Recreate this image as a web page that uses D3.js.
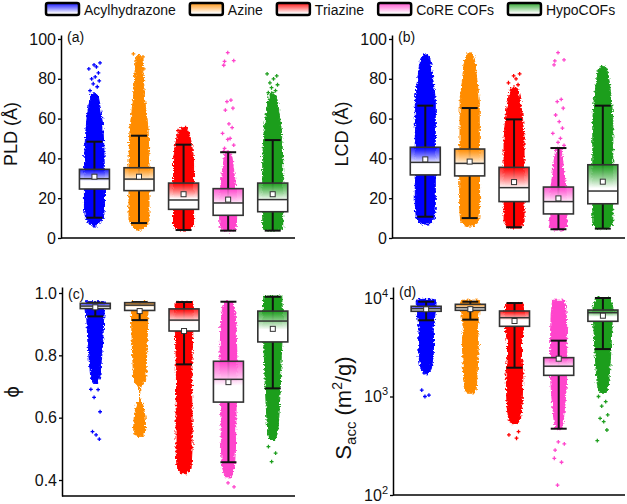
<!DOCTYPE html>
<html><head><meta charset="utf-8">
<script src="https://cdn.jsdelivr.net/npm/d3@7"></script>
<style>body{margin:0;background:#fff} svg{display:block;font-family:"Liberation Sans",Arial,sans-serif}</style>
</head><body><svg id="c" width="627" height="504"></svg>
<script>
// ---------------- DATA ----------------
const categories = ["Acylhydrazone", "Azine", "Triazine", "CoRE COFs", "HypoCOFs"];

// box stats: [whiskerLow, Q1, median, Q3, whiskerHigh, mean]
const pldStats = [
  [10.2, 24.6, 29.8, 34.5, 48.4, 30.8],
  [7.5, 23.8, 29.6, 35.3, 51.4, 30.8],
  [4.0, 14.4, 19.1, 27.6, 46.9, 22.0],
  [3.7, 11.4, 17.6, 24.8, 43.1, 19.3],
  [3.7, 13.2, 19.3, 27.6, 49.2, 22.0]
];
const lcdStats = [
  [10.7, 31.7, 38.0, 45.6, 66.5, 39.5],
  [10.0, 31.2, 37.5, 44.7, 65.3, 38.4],
  [5.4, 18.3, 25.3, 35.5, 59.6, 28.1],
  [4.4, 12.1, 18.3, 25.6, 45.2, 19.9],
  [4.7, 17.2, 23.6, 36.8, 66.5, 28.3]
];
const phiStats = [
  [0.925, 0.950, 0.958, 0.967, 0.969, 0.954],
  [0.913, 0.944, 0.961, 0.969, 0.971, 0.942],
  [0.771, 0.878, 0.913, 0.949, 0.971, 0.878],
  [0.457, 0.650, 0.723, 0.781, 0.972, 0.714],
  [0.694, 0.843, 0.910, 0.942, 0.988, 0.885]
];
const saccStats = [
  [5940, 7330, 7780, 8240, 9170, 7680],
  [6030, 7500, 7980, 8630, 9170, 7700],
  [1960, 5160, 6310, 7380, 8890, 5840],
  [471, 1640, 2030, 2480, 3690, 2420],
  [3030, 5800, 7100, 7550, 10000, 6610]
];

// dense point clouds: [value, relative density (0..1)]
const pldClouds = [
  [[6,0.2],[8,0.6],[10,0.9],[15,1],[30,1],[45,0.95],[55,0.85],[62,0.7],[68,0.5],[72,0.35],[73,0]],
  [[4,0.3],[6,0.7],[9,1],[40,1],[55,0.9],[62,0.75],[70,0.55],[80,0.45],[86,0.35],[90,0.3],[92,0.1]],
  [[4,0.5],[6,1],[40,1],[47,0.8],[52,0.6],[55,0.3],[55.5,0]],
  [[3.5,0.4],[5,0.8],[10,0.85],[20,0.85],[30,0.65],[36,0.5],[42,0.35],[44,0]],
  [[3.5,0.5],[5,1],[40,1],[55,0.85],[62,0.65],[68,0.5],[72,0.3],[73,0]]
];
const lcdClouds = [
  [[7,0.4],[10,0.9],[15,1],[70,1],[80,0.75],[86,0.6],[90,0.45],[92.5,0.15]],
  [[6,0.4],[9,0.9],[15,1],[70,0.95],[80,0.7],[88,0.55],[93,0.25]],
  [[5,0.6],[8,1],[50,1],[60,0.85],[66,0.7],[72,0.5],[75,0.35],[76,0]],
  [[4,0.5],[6,0.85],[15,0.85],[25,0.75],[33,0.55],[40,0.4],[45,0.25],[46,0]],
  [[4.7,0.5],[7,1],[60,1],[70,0.85],[78,0.65],[83,0.5],[86,0.25]]
];
const phiClouds = [
  [[0.71,0.2],[0.73,0.45],[0.78,0.6],[0.85,0.75],[0.92,0.85],[0.96,0.95],[0.972,0.9]],
  [[0.54,0.3],[0.56,0.6],[0.6,0.55],[0.63,0.4],[0.648,0.25],[0.65,0],[0.70,0],[0.705,0.3],[0.72,0.6],[0.8,0.7],[0.9,0.8],[0.97,0.85]],
  [[0.42,0.3],[0.44,0.7],[0.5,0.8],[0.6,0.8],[0.7,0.75],[0.8,0.8],[0.9,0.9],[0.97,0.9]],
  [[0.41,0.3],[0.44,0.6],[0.5,0.7],[0.6,0.75],[0.7,0.8],[0.8,0.85],[0.9,0.75],[0.95,0.6],[0.972,0.4]],
  [[0.53,0.3],[0.56,0.5],[0.6,0.6],[0.7,0.75],[0.8,0.85],[0.9,1],[0.99,0.9]]
];
const saccClouds = [
  [[1700,0.2],[1900,0.5],[2500,0.7],[3500,0.75],[5000,0.7],[7000,0.9],[9000,1],[9700,0.8]],
  [[1080,0.3],[1200,0.6],[1500,0.65],[2500,0.75],[3500,0.8],[5000,0.7],[7000,0.85],[9000,1],[9500,0.8]],
  [[530,0.3],[600,0.6],[800,0.75],[1200,0.8],[1800,0.85],[2500,0.7],[3500,0.7],[5000,0.9],[7000,1],[8800,0.8]],
  [[460,0.2],[550,0.45],[800,0.6],[1200,0.75],[2000,0.85],[3000,0.8],[5000,0.8],[7000,0.75],[9500,0.6]],
  [[1080,0.3],[1300,0.55],[2000,0.7],[3000,0.8],[5000,0.9],[8000,1],[10000,0.7]]
];

// sparse individual points outside the dense clouds
const pldSparse = [
  [74,76,77.5,79,80,81,83,85,86,87,88],
  [85,87,89,91,92.5],
  [53,54,55.5],
  [93.1,89.1,88.7,86.8,69.3,68.5,65.2,64.3,57.3,55.5,52.6,50,49.5,46.7,45,43.5],
  [73,74,75.5,77,78,80,81.5,82.5]
];
const lcdSparse = [
  [],
  [],
  [77,78,80,81.5,82.5],
  [93.1,89.5,89,87,69.7,68.5,65.2,61.8,58.5,55.2,52.6,50.1,48,46.5],
  [84,85,86]
];
const phiSparse = [
  [0.691,0.69,0.665,0.619,0.555,0.545,0.531],
  [],
  [],
  [0.391,0.378],
  [0.507,0.486,0.459]
];
const saccSparse = [
  [1160,1035,1000],
  [],
  [440,407,377],
  [347,330,286,236,215,126],
  [1000,885,800,650,600,555,457,356]
];

const linTicks = [0, 20, 40, 60, 80, 100];
const phiTicks = [0.4, 0.6, 0.8, 1.0];
const logTicks = [100, 1000, 10000];

// ---------------- STYLE ----------------
const colors = ["#0000ff", "#ff8c00", "#ff0000", "#ff44cc", "#1e9e1e"];
const svg = d3.select("#c");
const defs = svg.append("defs");
colors.forEach((c, i) => {
  const g = defs.append("linearGradient").attr("id", "bx" + i).attr("x1", 0).attr("y1", 0).attr("x2", 0).attr("y2", 1);
  g.append("stop").attr("offset", 0).attr("stop-color", c).attr("stop-opacity", 0.85);
  g.append("stop").attr("offset", 0.6).attr("stop-color", "#fff");
  const l = defs.append("linearGradient").attr("id", "lg" + i).attr("x1", 0).attr("y1", 0).attr("x2", 0).attr("y2", 1);
  l.append("stop").attr("offset", 0).attr("stop-color", c).attr("stop-opacity", 0.9);
  l.append("stop").attr("offset", 0.85).attr("stop-color", "#fff");
});
// rough edges for the dense point clouds
const flt = defs.append("filter").attr("id", "rough").attr("x", "-30%").attr("y", "-5%").attr("width", "160%").attr("height", "110%");
flt.append("feTurbulence").attr("type", "fractalNoise").attr("baseFrequency", 0.45).attr("numOctaves", 2).attr("seed", 3).attr("result", "n");
flt.append("feDisplacementMap").attr("in", "SourceGraphic").attr("in2", "n").attr("scale", 5)
  .attr("xChannelSelector", "R").attr("yChannelSelector", "G");

const jit = [-0.55, 0.35, -0.15, 0.6, -0.35, 0.1, 0.5, -0.7, 0.25, -0.05, 0.7, -0.45];
const HW = 10; // cloud half width (px)
const BOXW = 30, CAPW = 16;

function drawPanel(o) {
  const g = svg.append("g");
  const x = d3.scaleLinear().domain([0.25, 5.5]).range(o.xr);
  const y = o.y;
  const [yb, yt] = y.range();

  // clouds
  const cg = g.append("g").attr("filter", "url(#rough)");
  categories.forEach((c, i) => {
    const cx = x(i + 1);
    const area = d3.area()
      .y(d => y(d[0]))
      .x0(d => cx - d[1] * HW)
      .x1(d => cx + d[1] * HW);
    cg.append("path").attr("d", area(o.clouds[i])).attr("fill", colors[i])
      .attr("stroke", colors[i]).attr("stroke-width", 1).attr("stroke-linejoin", "round");
    g.selectAll(null).data(o.sparse[i]).join("path")
      .attr("d", d3.symbol(d3.symbolCross, 8)())
      .attr("transform", (d, k) => `translate(${cx + jit[(k + i * 3) % jit.length] * HW * 0.8},${y(d)})`)
      .attr("fill", colors[i]);
  });

  // boxes
  categories.forEach((c, i) => {
    const cx = x(i + 1);
    const [wl, q1, med, q3, wh, mean] = o.stats[i];
    g.append("line").attr("x1", cx).attr("x2", cx).attr("y1", y(wl)).attr("y2", y(wh))
      .attr("stroke", "#111").attr("stroke-width", 2);
    [wl, wh].forEach(v => g.append("line").attr("x1", cx - CAPW / 2).attr("x2", cx + CAPW / 2)
      .attr("y1", y(v)).attr("y2", y(v)).attr("stroke", "#111").attr("stroke-width", 2));
    g.append("rect").attr("x", cx - BOXW / 2).attr("y", y(q3)).attr("width", BOXW)
      .attr("height", Math.max(0.5, y(q1) - y(q3))).attr("fill", `url(#bx${i})`)
      .attr("stroke", "#333").attr("stroke-width", 1.6);
    g.append("line").attr("x1", cx - BOXW / 2).attr("x2", cx + BOXW / 2).attr("y1", y(med)).attr("y2", y(med))
      .attr("stroke", "#333").attr("stroke-width", 1.5);
    g.append("rect").attr("x", cx - 2.5).attr("y", y(mean) - 2.5).attr("width", 5).attr("height", 5)
      .attr("fill", "#fff").attr("stroke", "#333").attr("stroke-width", 1);
  });

  // axes
  const ax = d3.axisLeft(y).tickValues(o.ticks).tickSize(3).tickSizeOuter(0).tickPadding(2);
  if (o.fmt) ax.tickFormat(o.fmt);
  const ag = g.append("g").attr("transform", `translate(${o.xr[0]},0)`).call(ax);
  ag.select(".domain").attr("stroke", "#000").attr("stroke-width", 1.5);
  ag.selectAll(".tick line").attr("stroke", "#000").attr("stroke-width", 1.3);
  ag.selectAll(".tick text").attr("font-size", 16).attr("fill", "#111")
    .attr("font-family", "Liberation Sans, Arial, sans-serif");
  if (o.sup) {
    ag.selectAll(".tick text").each(function (d) {
      const t = d3.select(this); t.text("");
      t.append("tspan").text("10");
      t.append("tspan").attr("font-size", 11).attr("dy", -7).text(Math.round(Math.log10(d)));
    });
  }
  g.append("line").attr("x1", o.xr[0]).attr("x2", o.xr[1]).attr("y1", yb).attr("y2", yb)
    .attr("stroke", "#000").attr("stroke-width", 1.5);

  // panel label
  g.append("text").attr("x", o.xr[0] + 6).attr("y", o.labY).attr("font-size", 14).attr("fill", "#111").text(o.label);
  // axis title
  const tt = g.append("text").attr("transform", `translate(${o.titleX},${o.titleY}) rotate(-90)`)
    .attr("text-anchor", "middle").attr("font-size", o.titleSize || 18).attr("fill", "#111");
  o.title(tt);
}

const yA = d3.scaleLinear().domain([0, 102]).range([238, 35]);
drawPanel({ xr: [61, 295], y: yA, stats: pldStats, clouds: pldClouds, sparse: pldSparse, ticks: linTicks,
  label: "(a)", labY: 42, titleX: 17, titleY: 134, title: t => t.text("PLD (Å)") });
const yB = d3.scaleLinear().domain([0, 102]).range([238, 35]);
drawPanel({ xr: [392, 625], y: yB, stats: lcdStats, clouds: lcdClouds, sparse: lcdSparse, ticks: linTicks,
  label: "(b)", labY: 42, titleX: 348, titleY: 134, title: t => t.text("LCD (Å)") });
const yC0 = d3.scaleLinear().domain([0.4, 1.0]).range([480, 293]);
const yC = d3.scaleLinear().domain([yC0.invert(496), yC0.invert(287)]).range([496, 287]);
drawPanel({ xr: [62, 295], y: yC, stats: phiStats, clouds: phiClouds, sparse: phiSparse, ticks: phiTicks,
  fmt: d3.format(".1f"), label: "(c)", labY: 299, titleX: 19, titleY: 392, titleSize: 20, title: t => t.text("ϕ") });
const yD0 = d3.scaleLog().domain([100, 10000]).range([495, 298]);
const yD = d3.scaleLog().domain([100, yD0.invert(287)]).range([495, 287]);
drawPanel({ xr: [393, 625], y: yD, stats: saccStats, clouds: saccClouds, sparse: saccSparse, ticks: logTicks,
  sup: true, label: "(d)", labY: 297, titleX: 351, titleY: 408, titleSize: 22, title: t => {
    t.append("tspan").text("S");
    t.append("tspan").attr("font-size", 15).attr("dy", 5).text("acc");
    t.append("tspan").attr("dy", -5).text(" (m");
    t.append("tspan").attr("font-size", 14).attr("dy", -9).text("2");
    t.append("tspan").attr("dy", 9).text("/g)");
  } });

// legend
let lx = 46;
const lg = svg.append("g");
categories.forEach((c, i) => {
  lg.append("rect").attr("x", lx).attr("y", 3).attr("width", 33).attr("height", 12).attr("rx", 2)
    .attr("fill", `url(#lg${i})`).attr("stroke", "#000").attr("stroke-width", 2.5);
  const t = lg.append("text").attr("x", lx + 38).attr("y", 14.5).attr("font-size", 14).attr("fill", "#111").text(c);
  lx += 38 + t.node().getComputedTextLength() + 14;
});
</script></body></html>
